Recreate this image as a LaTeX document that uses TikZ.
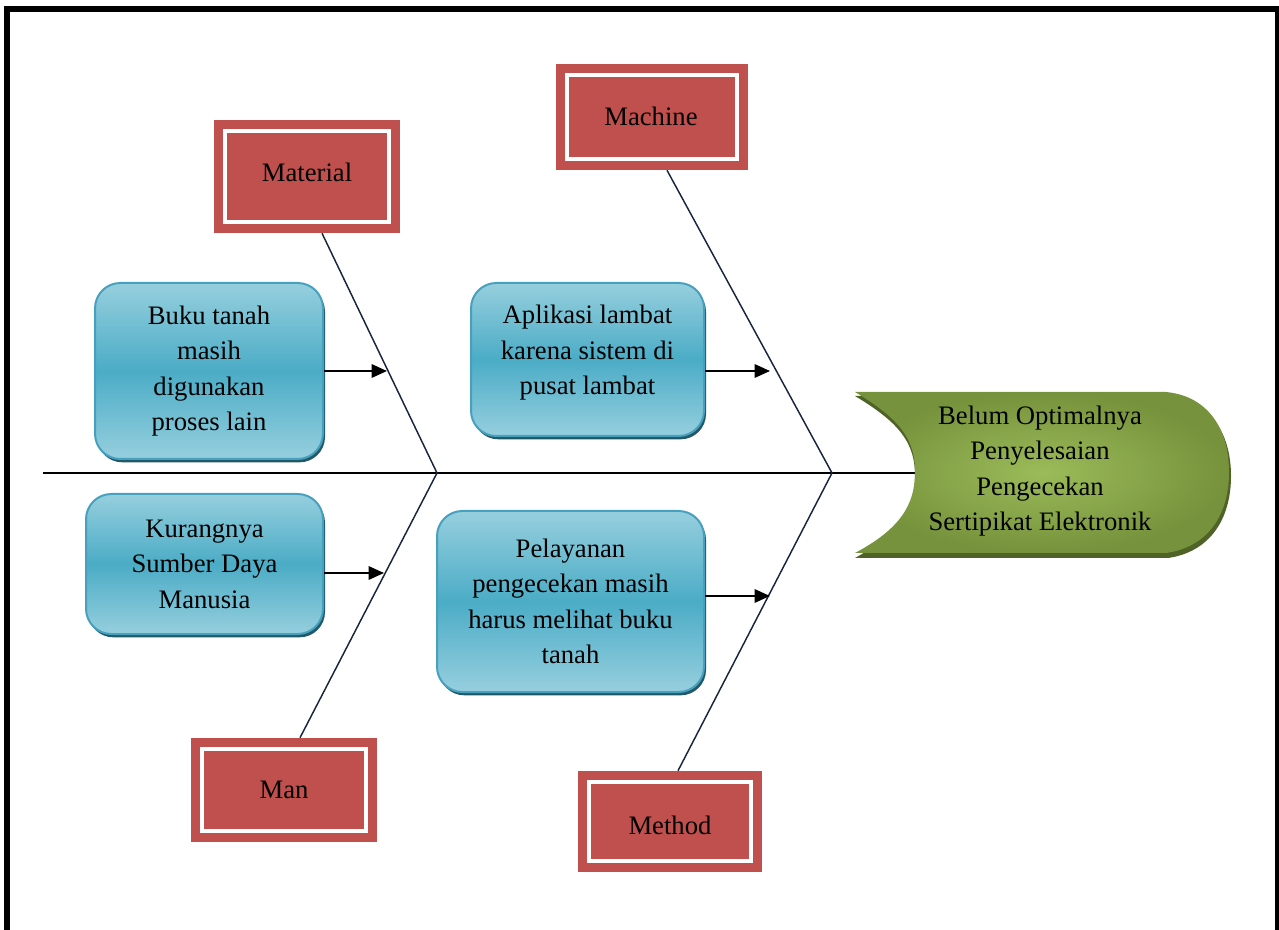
\documentclass[tikz,border=0pt]{standalone}
\usepackage{fontspec}
\setmainfont{Liberation Serif}
\usetikzlibrary{arrows.meta,shadows}
\definecolor{redc}{RGB}{192,80,77}
\definecolor{bluelt}{RGB}{150,207,222}
\definecolor{bluemd}{RGB}{75,172,198}
\definecolor{blueln}{RGB}{70,160,190}
\definecolor{blueshd}{RGB}{33,89,104}
\definecolor{bonec}{RGB}{23,37,61}
\definecolor{greenin}{RGB}{155,187,89}
\definecolor{greenout}{RGB}{118,146,60}
\definecolor{greenshd}{RGB}{79,98,40}
\begin{document}
\begin{tikzpicture}[x=0.75pt,y=-0.75pt,
  txt/.style={font=\fontsize{20pt}{26.6pt}\selectfont, align=center},
  redbox/.style={fill=redc, inner sep=0pt,
    path picture={\draw[white,line width=3pt]
      ([shift={(7.9pt,-7.9pt)}]path picture bounding box.north west) rectangle
      ([shift={(-7.9pt,7.9pt)}]path picture bounding box.south east);}},
  bluebox/.style={txt, inner sep=0pt, rounded corners=19pt, draw=blueln, line width=1.5pt,
    top color=bluelt, bottom color=bluelt, middle color=bluemd,
    drop shadow={shadow xshift=1.5pt, shadow yshift=-2.5pt, fill=blueshd, opacity=1}},
  bone/.style={draw=bonec, line width=1.1pt},
  arr/.style={draw=black, line width=1.6pt, -{Triangle[length=11.5pt,width=10pt]}}
]
\useasboundingbox (0,0) rectangle (1279,930);
% frame
\draw[line width=4.5pt] (7,935) -- (7,9) -- (1278,9) -- (1278,935);

% spine
\coordinate (tail) at (43,473);
\coordinate (tip) at (915,473);
\coordinate (j1) at (437,473);
\coordinate (j2) at (832,473);
\draw[line width=1.5pt] (tail) -- (tip);

% head
\fill[greenshd] (855,396) .. controls (900,423) and (915,443) .. (915,476)
  .. controls (915,509) and (900,533) .. (855,558) -- (1168,558)
  .. controls (1210,552) and (1231,519) .. (1231,476)
  .. controls (1231,433) and (1210,400) .. (1168,396) -- cycle;
\shade[inner color=greenin, outer color=greenout] (855,392) .. controls (900,419) and (915,439) .. (915,472)
  .. controls (915,505) and (900,529) .. (855,553) -- (1166,553)
  .. controls (1208,547) and (1229,515) .. (1229,472)
  .. controls (1229,429) and (1208,396) .. (1166,392) -- cycle;
\node[txt] (effect) at (1040,471) {Belum Optimalnya\\Penyelesaian\\Pengecekan\\Sertipikat Elektronik};

% category boxes
\node[redbox, minimum width=139.5pt, minimum height=84.75pt] (mat) at (307,176.5) {};
\node[txt] (matt) at (307,172) {Material};
\node[redbox, minimum width=144pt, minimum height=79.5pt] (mac) at (652,117) {};
\node[txt] (mact) at (651,116) {Machine};
\node[redbox, minimum width=139.5pt, minimum height=78pt] (man) at (284,790) {};
\node[txt] (mant) at (284,790) {Man};
\node[redbox, minimum width=138pt, minimum height=75.75pt] (met) at (670,821.5) {};
\node[txt] (mett) at (670,825) {Method};

% bones
\draw[bone] ([xshift=11.25pt]mat.south) -- (j1) -- ([xshift=12pt]man.north);
\draw[bone] ([xshift=11.25pt]mac.south) -- (j2) -- ([xshift=6pt]met.north);

% cause boxes
\node[bluebox, minimum width=171pt, minimum height=132pt] (buku) at (209,371) {Buku tanah\\masih\\digunakan\\proses lain};
\node[bluebox, minimum width=174.75pt, minimum height=114.75pt] (apl) at (587.5,359.5) {};
\node[txt] (aplt) at (587.5,353) {Aplikasi lambat\\karena sistem di\\pusat lambat};
\node[bluebox, minimum width=177.75pt, minimum height=105pt] (kur) at (204.5,564) {Kurangnya\\Sumber Daya\\Manusia};
\node[bluebox, minimum width=200.25pt, minimum height=135.75pt] (pel) at (570.5,601.5) {Pelayanan\\pengecekan masih\\harus melihat buku\\tanah};

% arrows
\coordinate (a1) at (387,371);
\coordinate (a2) at (770,371);
\coordinate (a3) at (384,573);
\coordinate (a4) at (770,596);
\draw[arr] (buku.east |- a1) -- (a1);
\draw[arr] (apl.east |- a2) -- (a2);
\draw[arr] (kur.east |- a3) -- (a3);
\draw[arr] (pel.east |- a4) -- (a4);
\end{tikzpicture}
\end{document}
